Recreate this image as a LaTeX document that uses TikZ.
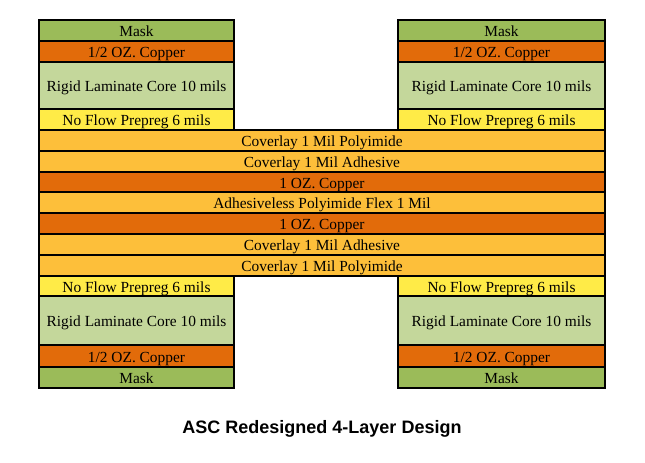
\documentclass[tikz,border=0pt]{standalone}
\usepackage{fontspec}
\setmainfont{Liberation Serif}
\newfontfamily\titlefont{Liberation Sans}
\definecolor{maskc}{HTML}{9BBB59}
\definecolor{copperc}{HTML}{E26B0A}
\definecolor{rigidc}{HTML}{C4D79B}
\definecolor{prepregc}{HTML}{FFEB47}
\definecolor{coverc}{HTML}{FDBF3A}
\tikzset{
  layer/.style={draw=black, line width=1.4pt, inner sep=0pt, text height=15pt, text depth=3pt,
    font=\fontsize{15.4}{18}\selectfont},
  leftcol/.style={layer, minimum width=195pt},
  rightcol/.style={layer, minimum width=207pt},
  fullrow/.style={layer, minimum width=566pt},
}
\begin{document}
\begin{tikzpicture}[x=1pt,y=-1pt]
\useasboundingbox[fill=white] (0,0) rectangle (645,463);
% top stacks
\node[leftcol, fill=maskc, minimum height=21pt] (lmask1) at (136.5,30.5) {Mask};
\node[leftcol, fill=copperc, minimum height=21pt] (lcu1) at (136.5,51.5) {1/2 OZ. Copper};
\node[leftcol, fill=rigidc, minimum height=47pt] (lcore1) at (136.5,85.5) {Rigid Laminate Core 10 mils};
\node[leftcol, fill=prepregc, minimum height=21pt] (lpp1) at (136.5,119.5) {No Flow Prepreg 6 mils};
\node[rightcol, fill=maskc, minimum height=21pt] (rmask1) at (501.5,30.5) {Mask};
\node[rightcol, fill=copperc, minimum height=21pt] (rcu1) at (501.5,51.5) {1/2 OZ. Copper};
\node[rightcol, fill=rigidc, minimum height=47pt] (rcore1) at (501.5,85.5) {Rigid Laminate Core 10 mils};
\node[rightcol, fill=prepregc, minimum height=21pt] (rpp1) at (501.5,119.5) {No Flow Prepreg 6 mils};
% flex stack
\node[fullrow, fill=coverc, minimum height=21pt] (cpi1) at (322,140.5) {Coverlay 1 Mil Polyimide};
\node[fullrow, fill=coverc, minimum height=21pt] (cad1) at (322,161.5) {Coverlay 1 Mil Adhesive};
\node[fullrow, fill=copperc, minimum height=20pt] (cu1) at (322,182) {1 OZ. Copper};
\node[fullrow, fill=coverc, minimum height=21pt] (flex) at (322,202.5) {Adhesiveless Polyimide Flex 1 Mil};
\node[fullrow, fill=copperc, minimum height=21pt] (cu2) at (322,223.5) {1 OZ. Copper};
\node[fullrow, fill=coverc, minimum height=21pt] (cad2) at (322,244.5) {Coverlay 1 Mil Adhesive};
\node[fullrow, fill=coverc, minimum height=21pt] (cpi2) at (322,265.5) {Coverlay 1 Mil Polyimide};
% bottom stacks
\node[leftcol, fill=prepregc, minimum height=20pt] (lpp2) at (136.5,286) {No Flow Prepreg 6 mils};
\node[leftcol, fill=rigidc, minimum height=49pt] (lcore2) at (136.5,320.5) {Rigid Laminate Core 10 mils};
\node[leftcol, fill=copperc, minimum height=22pt] (lcu2) at (136.5,356) {1/2 OZ. Copper};
\node[leftcol, fill=maskc, minimum height=21pt] (lmask2) at (136.5,377.5) {Mask};
\node[rightcol, fill=prepregc, minimum height=20pt] (rpp2) at (501.5,286) {No Flow Prepreg 6 mils};
\node[rightcol, fill=rigidc, minimum height=49pt] (rcore2) at (501.5,320.5) {Rigid Laminate Core 10 mils};
\node[rightcol, fill=copperc, minimum height=22pt] (rcu2) at (501.5,356) {1/2 OZ. Copper};
\node[rightcol, fill=maskc, minimum height=21pt] (rmask2) at (501.5,377.5) {Mask};
% title
\node[font=\titlefont\bfseries\fontsize{18}{22}\selectfont, inner sep=0pt] (title) at (322,429) {ASC Redesigned 4-Layer Design};
\end{tikzpicture}
\end{document}
